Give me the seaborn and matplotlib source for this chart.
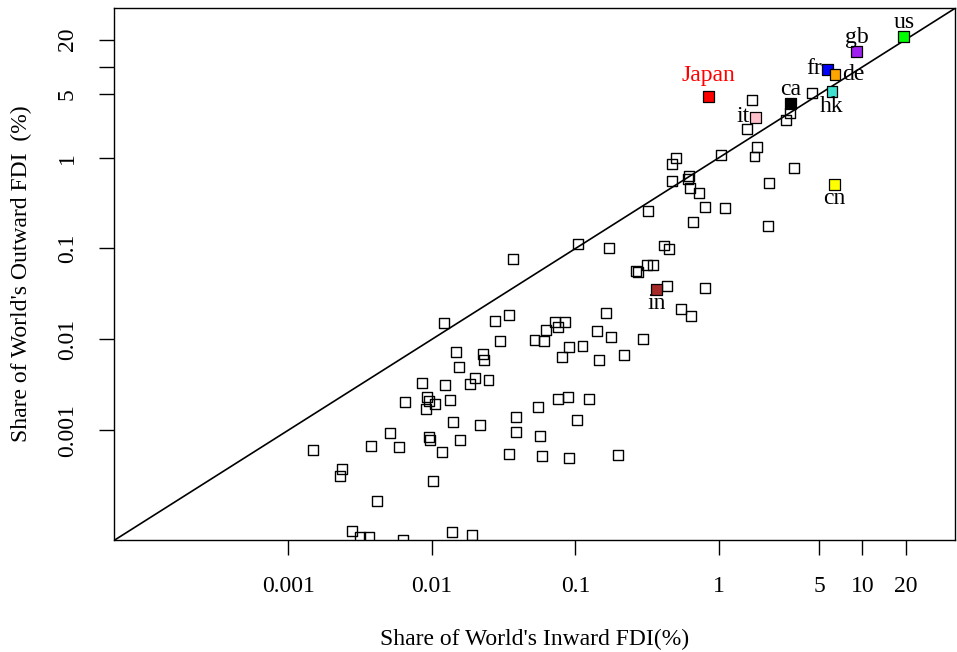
import numpy as np
import pandas as pd
import matplotlib
matplotlib.use("Agg")
import matplotlib.pyplot as plt
import seaborn as sns

# highlighted economies
hl_names = ["us", "gb", "fr", "de", "hk", "ca", "Japan", "it", "cn", "in"]
hl_inward = [19.4, 9.11, 5.72, 6.43, 6.13, 3.16, 0.848, 1.79, 6.40, 0.368]
hl_outward = [21.7, 14.7, 9.41, 8.20, 5.33, 3.93, 4.70, 2.79, 0.509, 0.0355]
hl_colors = ["#00FF00", "#A020F0", "#0000FF", "#FFA500", "#40E0D0", "#000000",
             "#FF0000", "#FFC0CB", "#FFFF00", "#A52A2A"]
hl_pos = ["above", "above", "left", "right", "below", "above", "japan", "left", "below", "below"]

# other economies
other_inward = [
    4.47, 1.69, 3.12, 2.92, 1.57, 1.83, 1.77, 1.03, 0.504, 0.473, 0.621, 0.611, 0.473,
    0.628, 0.726, 3.35, 2.24, 0.322, 0.803, 1.10, 0.662, 2.21,
    0.104, 0.171, 0.416, 0.451, 0.264, 0.273, 0.316, 0.345, 0.432, 0.795, 0.164, 0.543,
    0.641, 0.0723, 0.0841, 0.0623, 0.0755, 0.0518, 0.0600, 0.142, 0.178, 0.295, 0.0905,
    0.112, 0.0805, 0.145, 0.218, 0.0550, 0.0759, 0.0891, 0.124, 0.102, 0.0563, 0.0584,
    0.0905, 0.199,
    0.0365,
    0.01218, 0.0276, 0.0342, 0.0299, 0.01469, 0.0228, 0.0230, 0.01549, 0.00848, 0.01226,
    0.01831, 0.02004, 0.0248, 0.00927, 0.00958, 0.01054, 0.01342, 0.00913, 0.00648,
    0.0383, 0.0140, 0.0215, 0.0385, 0.00512, 0.00374, 0.00589, 0.00958, 0.00964,
    0.01567, 0.01169, 0.0342, 0.00148, 0.00235, 0.00230, 0.01011, 0.00416, 0.00278,
    0.00316, 0.00366, 0.00625, 0.01385, 0.01891,
]
other_outward = [
    5.12, 4.29, 3.08, 2.60, 2.09, 1.31, 1.03, 1.07, 1.00, 0.852, 0.629, 0.578, 0.550,
    0.460, 0.412, 0.770, 0.523, 0.259, 0.289, 0.277, 0.194, 0.178,
    0.111, 0.1005, 0.108, 0.098, 0.0570, 0.0551, 0.0653, 0.0663, 0.0386, 0.0370, 0.0195,
    0.0214, 0.0182, 0.0154, 0.0154, 0.01256, 0.01365, 0.00975, 0.00966, 0.01234, 0.01052,
    0.0100, 0.00816, 0.00851, 0.00643, 0.00587, 0.00667, 0.00180, 0.00220, 0.00232,
    0.00220, 0.00128, 0.000855, 0.000522, 0.000493, 0.000528,
    0.0760,
    0.0152, 0.0160, 0.0187, 0.00966, 0.00730, 0.00684, 0.00587, 0.00495, 0.00330, 0.00311,
    0.00322, 0.00372, 0.00353, 0.00232, 0.00211, 0.00195, 0.00213, 0.00171, 0.00202,
    0.00139, 0.00124, 0.00113, 0.000953, 0.000922, 0.000668, 0.000652, 0.000833, 0.000778,
    0.000772, 0.000574, 0.000550, 0.000608, 0.000373, 0.000315, 0.000277, 0.000167,
    7.68e-5, 6.59e-5, 6.70e-5, 6.16e-5, 7.55e-5, 7.00e-5,
]

tick_values = [0.001, 0.01, 0.1, 1, 5, 10, 20]
x_tick_labels = ["0.001", "0.01", "0.1", "1", "5", "10", "20"]
y_tick_labels = ["0.001", "0.01", "0.1", "1", "5", "", "20"]

sns.set_theme(style="white")
plt.rcParams["font.family"] = ["Liberation Serif", "DejaVu Serif"]
plt.rcParams["text.color"] = "black"
plt.rcParams["axes.labelcolor"] = "black"

fig = plt.figure(figsize=(9.57, 6.52), dpi=100)
ax = fig.add_axes([113.7 / 957, 1 - 540.3 / 652, (955 - 113.7) / 957, (540.3 - 7.7) / 652])

ax.set_xscale("log")
ax.set_yscale("log")
ax.set_xlim(10 ** -4.218, 10 ** 1.645)
ax.set_ylim(10 ** -4.214, 10 ** 1.652)

ax.axline((1, 1), (10, 10), color="black", lw=1.2, zorder=1)

df_other = pd.DataFrame({"inward": other_inward, "outward": other_outward})
sns.scatterplot(data=df_other, x="inward", y="outward", marker="s", s=50,
                facecolor="none", edgecolor="black", linewidth=1.0, ax=ax, zorder=3)

df_hl = pd.DataFrame({"name": hl_names, "inward": hl_inward, "outward": hl_outward})
pal = dict(zip(hl_names, hl_colors))
sns.scatterplot(data=df_hl, x="inward", y="outward", hue="name", palette=pal,
                marker="s", s=60, edgecolor="black", linewidth=0.9, legend=False,
                ax=ax, zorder=4)

fs = 17
offsets = {
    "above": ((0, 6.0), "center", "baseline"),
    "japan": ((0, 11.0), "center", "baseline"),
    "below": ((0, -14.4), "center", "baseline"),
    "left": ((-4.3, -3.6), "right", "baseline"),
    "right": ((5.5, -3.5), "left", "baseline"),
}
for name, xv, yv, pos in zip(hl_names, hl_inward, hl_outward, hl_pos):
    off, ha, va = offsets[pos]
    ax.annotate(name, (xv, yv), xytext=off, textcoords="offset points",
                ha=ha, va=va, fontsize=fs,
                color="red" if name == "Japan" else "black", zorder=5)

ax.xaxis.set_minor_locator(matplotlib.ticker.NullLocator())
ax.yaxis.set_minor_locator(matplotlib.ticker.NullLocator())
ax.set_xticks(tick_values)
ax.set_xticklabels(x_tick_labels)
ax.set_yticks(tick_values)
ax.set_yticklabels(y_tick_labels, rotation=90, va="center")
ax.tick_params(axis="both", which="major", direction="out", length=10.8, width=1.0,
               labelsize=fs, pad=15, colors="black", bottom=True, left=True)

for sp in ax.spines.values():
    sp.set_color("black")
    sp.set_linewidth(1.0)

ax.set_xlabel("Share of World's Inward FDI(%)", fontsize=fs, labelpad=23, color="black")
ax.set_ylabel("Share of World's Outward FDI  (%)", fontsize=fs, labelpad=18, color="black")
ax.grid(False)

fig.savefig("out.png", dpi=100)
